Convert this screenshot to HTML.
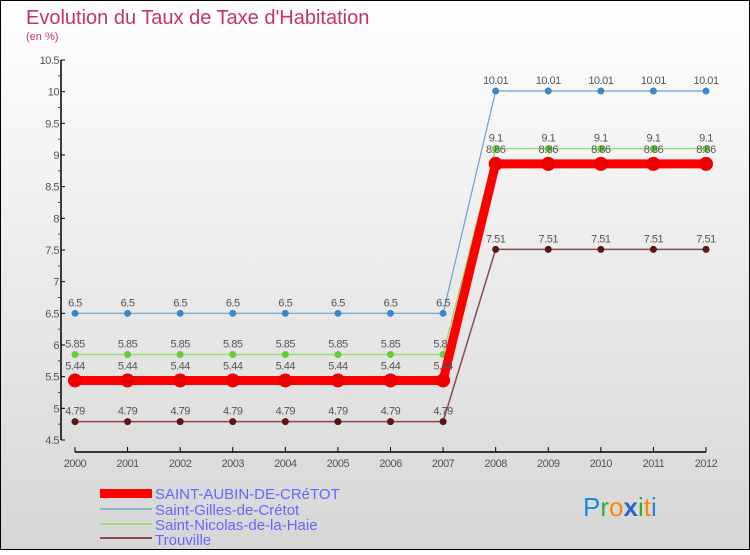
<!DOCTYPE html>
<html><head><meta charset="utf-8"><style>
body{margin:0}
#c{width:750px;height:550px;position:relative;font-family:"Liberation Sans",sans-serif}
svg text{font-family:"Liberation Sans",sans-serif}
</style></head><body>
<div id="c">
<svg id="s" width="750" height="550" xmlns="http://www.w3.org/2000/svg">
<defs><linearGradient id="bg" x1="0" y1="0" x2="0" y2="1"><stop offset="0" stop-color="#ffffff"/><stop offset="1" stop-color="#d6d6d6"/></linearGradient></defs>
<rect x="0.5" y="0.5" width="749" height="549" fill="url(#bg)" stroke="#000"/>
<text x="26" y="24" font-size="20" fill="#c8326a">Evolution du Taux de Taxe d'Habitation</text>
<text x="26" y="40" font-size="11" fill="#c8326a">(en %)</text>
<g id="axes"></g><g id="series"></g>
<g>
<rect x="100" y="489" width="52" height="9" fill="#ff0000"/>
<text x="155" y="499" font-size="15" fill="#6666ff">SAINT-AUBIN-DE-CRéTOT</text>
<line x1="100" y1="509" x2="152" y2="509" stroke="#8ab4d6" stroke-width="2"/>
<text x="155" y="515" font-size="15" fill="#6666ff">Saint-Gilles-de-Crétot</text>
<line x1="100" y1="524" x2="152" y2="524" stroke="#99dd77" stroke-width="2"/>
<text x="155" y="530" font-size="15" fill="#6666ff">Saint-Nicolas-de-la-Haie</text>
<line x1="100" y1="538" x2="152" y2="538" stroke="#8b4a4a" stroke-width="2"/>
<text x="155" y="545" font-size="15" fill="#6666ff">Trouville</text>
</g>
<g font-size="26">
<text x="583" y="516"><tspan fill="#2288dd">P</tspan><tspan fill="#33aa33">r</tspan><tspan fill="#ff8800">o</tspan><tspan fill="#2266cc" font-weight="bold">x</tspan><tspan fill="#33aa33">i</tspan><tspan fill="#ff8800">t</tspan><tspan fill="#2288dd">i</tspan></text>
</g>
</svg></div>
<script>
const years=[2000,2001,2002,2003,2004,2005,2006,2007,2008,2009,2010,2011,2012];
const yTicks=[4.5,5,5.5,6,6.5,7,7.5,8,8.5,9,9.5,10,10.5];
const saintAubin=[5.44,5.44,5.44,5.44,5.44,5.44,5.44,5.44,8.86,8.86,8.86,8.86,8.86];
const saintGilles=[6.5,6.5,6.5,6.5,6.5,6.5,6.5,6.5,10.01,10.01,10.01,10.01,10.01];
const saintNicolas=[5.85,5.85,5.85,5.85,5.85,5.85,5.85,5.85,9.1,9.1,9.1,9.1,9.1];
const trouville=[4.79,4.79,4.79,4.79,4.79,4.79,4.79,4.79,7.51,7.51,7.51,7.51,7.51];
const NS="http://www.w3.org/2000/svg";
const xs=i=>75+i*(631/12);
const ys=v=>440-(v-4.5)*(380/6);
function mk(t,a,p){const e=document.createElementNS(NS,t);for(const k in a)e.setAttribute(k,a[k]);p.appendChild(e);return e;}
const ax=document.getElementById('axes');
mk('line',{x1:61,y1:60,x2:61,y2:440,stroke:'#000','stroke-width':1.5},ax);
yTicks.forEach(v=>{
 mk('line',{x1:61,y1:ys(v),x2:65,y2:ys(v),stroke:'#000'},ax);
 if(v<10.5)mk('line',{x1:58,y1:ys(v+0.25),x2:60,y2:ys(v+0.25),stroke:'#f00'},ax);
 const t=mk('text',{x:59,y:ys(v)+4,'font-size':11,fill:'#555','text-anchor':'end','letter-spacing':'-0.5'},ax);
 
 
 t.textContent=v;
});
mk('line',{x1:75,y1:452,x2:706,y2:452,stroke:'#000','stroke-width':1.5},ax);
years.forEach((y,i)=>{
 mk('line',{x1:xs(i),y1:447,x2:xs(i),y2:452,stroke:'#000'},ax);
 const t=mk('text',{x:xs(i),y:467,'font-size':11,fill:'#555','text-anchor':'middle','letter-spacing':'-0.5'},ax);
 
 
 t.textContent=y;
});
const sg=document.getElementById('series');
const defs=[
 {d:trouville,c:'#8b4a4a',dc:'#5a1515',w:1.5,r:3.5,n:'trouville'},
 {d:saintGilles,c:'#6aa0d0',dc:'#3a88cc',w:1.2,r:3.5,n:'saint-gilles'},
 {d:saintNicolas,c:'#99dd77',dc:'#66cc33',w:1.5,r:3.5,n:'saint-nicolas'},
 {d:saintAubin,c:'#ff0000',dc:'#ee0000',w:9,r:7,n:'saint-aubin'}
];
defs.forEach(s=>{
 const g=mk('g',{},sg);
 
 
 const p=mk('polyline',{points:s.d.map((v,i)=>xs(i)+','+ys(v)).join(' '),fill:'none',stroke:s.c,'stroke-width':s.w},g);
 
 
 s.d.forEach((v,i)=>{
  const c=mk('circle',{cx:xs(i),cy:ys(v),r:s.r,fill:s.dc},g);
  
  
  const t=mk('text',{x:xs(i),y:ys(v)-(s.n==='saint-aubin'?11:7),'font-size':11,fill:'#555','text-anchor':'middle','letter-spacing':'-0.5'},g);
  
  
  t.textContent=v;
 });
});
</script>
</body></html>
